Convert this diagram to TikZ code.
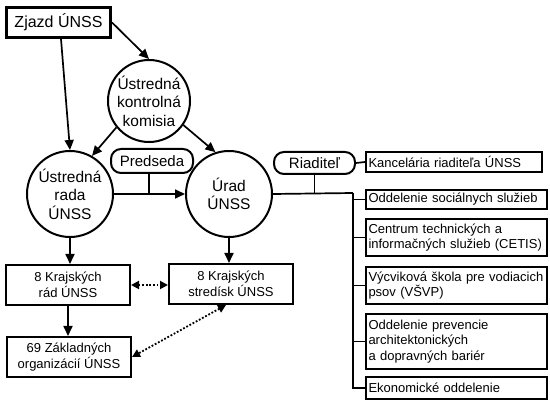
\documentclass[tikz,border=0pt]{standalone}
\usepackage{fontspec}
\setmainfont{Liberation Sans}
\usetikzlibrary{arrows.meta}
\begin{document}
\begin{tikzpicture}[x=1pt,y=-1pt,
  box/.style={draw,line width=2pt,rectangle,inner sep=0pt,align=center,font=\fontsize{13}{15.5}\selectfont},
  rbox/.style={draw,line width=2pt,rectangle,inner ysep=0pt,inner xsep=2.5pt,align=left,text width=176pt,font=\fontsize{13}{15.5}\selectfont,execute at begin node={\hyphenpenalty=10000\relax}},
  circ/.style={draw,line width=2pt,circle,inner sep=0pt,align=center,font=\fontsize{15.5}{18.5}\selectfont},
  pill/.style={draw,line width=2pt,rectangle,rounded corners=10pt,inner sep=0pt,font=\fontsize{15}{18}\selectfont},
  conn/.style={line width=1.7pt},
  arr/.style={conn,-{Triangle[length=10pt,width=9pt]}},
  dots/.style={line width=1.8pt,dash pattern=on 1.8pt off 1.8pt,{Triangle[length=8pt,width=8pt]}-{Triangle[length=8pt,width=8pt]}}
]
\useasboundingbox (0,0) rectangle (550,406);
\fill[white] (0,0) rectangle (550,406);

\node[draw,line width=3pt,rectangle,minimum width=104pt,minimum height=30pt,inner sep=0pt,font=\fontsize{16}{19}\selectfont] (zjazd) at (58.5,22.5) {Zjazd ÚNSS};

\node[circ,minimum size=82pt] (komisia) at (149,101) {Ústredná\\kontrolná\\komisia};
\node[circ,minimum size=86pt] (rada) at (70,194) {Ústredná\\rada\\ÚNSS};
\node[circ,minimum size=86pt] (urad) at (229,194) {Úrad\\ÚNSS};

\node[pill,minimum width=82pt,minimum height=24pt] (predseda) at (152,161) {Predseda};
\node[pill,minimum width=81pt,minimum height=22pt] (riaditel) at (314.5,163) {Riaditeľ};

\node[rbox,text width=171pt,minimum height=20pt] (kanc) at (454,162) {Kancelária riaditeľa ÚNSS};
\node[rbox,minimum height=19pt] (odd) at (456.5,199.5) {Oddelenie sociálnych služieb};
\node[rbox,minimum height=37pt] (cetis) at (456.5,237.5) {Centrum technických a\\informačných služieb (CETIS)};
\node[rbox,minimum height=37pt] (vycvik) at (456.5,285.5) {Výcviková škola pre vodiacich\\psov (VŠVP)};
\node[rbox,minimum height=55pt] (prev) at (456.5,341.5) {Oddelenie prevencie\\architektonických\\a dopravných bariér};
\node[rbox,minimum height=22pt] (ekon) at (456.5,388) {Ekonomické oddelenie};

\node[box,minimum width=124pt,minimum height=40pt] (rad) at (68,285) {8 Krajských\\rád ÚNSS};
\node[box,minimum width=124pt,minimum height=40pt] (stredisk) at (231,284) {8 Krajských\\stredísk ÚNSS};
\node[box,minimum width=124pt,minimum height=40pt] (zakl) at (69,357) {69 Základných\\organizácií ÚNSS};

\coordinate (trtop) at (353,193);

% arrows
\draw[arr] ([xshift=2.5pt]zjazd.south) -- (rada.north);
\draw[arr] (zjazd.east) -- (komisia.north);
\draw[arr] (komisia.219) -- (rada.60);
\draw[arr] (komisia.-35) -- (urad.108);
\draw[arr] (rada.east) -- (urad.west);
\draw[conn] ([xshift=-3pt]predseda.south) -- ([xshift=-3pt]predseda.south |- rada.east);
\draw[arr] (rada.south) -- (rada.south |- rad.north);
\draw[arr] (urad.south) -- (urad.south |- stredisk.north);
\draw[arr] (rad.south) -- (rad.south |- zakl.north);
\draw[dots] (rad.east) -- (rad.east -| stredisk.west);
\draw[dots] ([xshift=-5pt]stredisk.south) -- (zakl.east);

% right tree
\draw[conn] (urad.east) -- (trtop);
\draw[conn] (riaditel.south) -- (riaditel.south |- urad.east);
\draw[conn] (riaditel.east) -- (kanc.west);
\draw[conn] (trtop) -- (trtop |- ekon.west) -- (ekon.west);
\draw[conn] (trtop |- odd.west) -- (odd.west);
\draw[conn] (trtop |- cetis.west) -- (cetis.west);
\draw[conn] (trtop |- vycvik.west) -- (vycvik.west);
\draw[conn] (trtop |- prev.west) -- (prev.west);
\end{tikzpicture}
\end{document}
